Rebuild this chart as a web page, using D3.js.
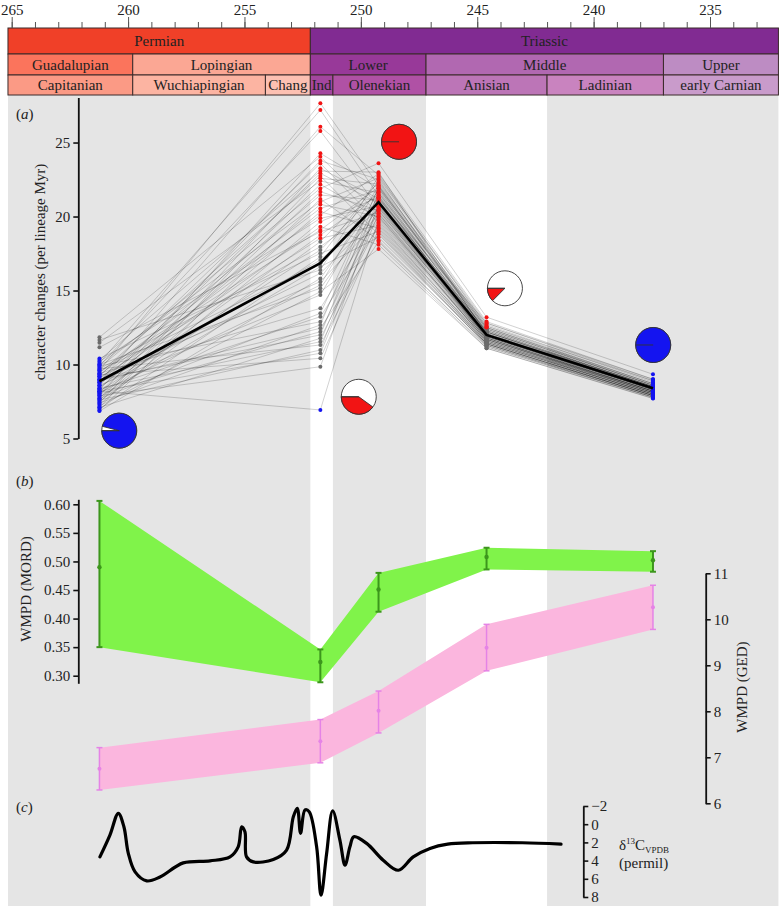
<!DOCTYPE html>
<html>
<head>
<meta charset="utf-8">
<script src="https://cdn.jsdelivr.net/npm/d3@7"></script>
<style>
  body { margin: 0; background: #fff; }
</style>
</head>
<body>
<div id="chart"></div>
<script>
// geological timescale (Ma)
var periodNames = ["Permian", "Triassic"];
var periodBreaks = [265.16, 252.17, 232.06];
var epochNames = ["Guadalupian", "Lopingian", "Lower", "Middle", "Upper"];
var epochBreaks = [265.16, 259.8, 252.17, 247.2, 237, 232.06];
var stageNames = ["Capitanian", "Wuchiapingian", "Chang", "Ind", "Olenekian", "Anisian", "Ladinian", "early Carnian"];
var stageBreaks = [265.16, 259.8, 254.1, 252.17, 251.2, 247.2, 242, 237, 232.06];
var shadedIntervals = [[265.16, 252.17], [251.2, 247.2], [242, 232.06]];
var majorTicks = [265, 260, 255, 250, 245, 240, 235];

// (a) rates of character change, one entry per tree in each time bin
var binAges = [261.23, 251.74, 249.24, 244.6, 237.45];
var rateBin1 = [9.6, 10.1, 8.8, 9.9, 7.9, 11.84, 8.3, 9.2, 7.4, 10.3, 8.6, 9.4, 7.1, 11.47, 8.1, 9.8, 7.7, 9.0, 6.9, 10.0, 8.4,
  9.3, 7.6, 8.9, 10.2, 7.3, 8.7, 9.5, 11.16, 8.0, 9.1, 7.5, 9.7, 8.2, 10.4, 7.0, 8.5, 9.6, 7.8, 11.66, 8.8, 6.85, 9.2,
  8.1, 10.0, 7.2, 8.6, 9.4, 7.7, 8.3, 9.9, 7.4, 8.9, 8.0, 9.0, 7.1, 8.4, 9.7, 7.6, 8.2, 9.3, 7.9, 8.2];
var rateBin2 = [27.65, 27.2, 26.07, 25.78, 24.27, 24.04, 23.77, 23.59, 23.26, 23.07, 22.92, 22.74, 22.58, 22.4, 22.17, 21.9,
  21.68, 21.45, 21.18, 21.0, 20.82, 20.55, 20.32, 20.1, 19.88, 19.65, 19.31, 19.09, 18.97, 18.75, 18.53, 18.3, 17.96,
  17.74, 17.51, 17.28, 17.06, 16.84, 16.61, 16.39, 16.16, 15.82, 15.6, 15.37, 15.15, 14.92, 14.7, 13.8, 13.46, 13.23,
  12.89, 12.67, 12.45, 12.22, 12.0, 11.77, 11.54, 11.32, 10.98, 10.76, 10.42, 9.85, 6.93];
var rateBin3 = [22.1, 21.4, 22.8, 20.6, 21.9, 20.2, 22.5, 19.6, 21.2, 23.0, 20.9, 18.8, 22.2, 21.6, 19.9, 23.6, 20.4, 21.1,
  18.4, 22.6, 20.0, 21.8, 19.2, 22.9, 20.7, 21.3, 18.1, 22.0, 20.3, 21.5, 19.4, 22.3, 20.8, 21.7, 19.0, 22.4, 20.5, 21.0,
  18.6, 22.7, 20.1, 21.2, 19.7, 22.1, 20.6, 17.8, 21.4, 20.0, 21.9, 19.3, 20.9, 22.0, 18.3, 20.4, 21.6, 19.5, 20.7, 18.9,
  21.3, 20.2, 19.1, 20.8, 19.8];
var rateBin4 = [12.2, 11.9, 12.6, 11.7, 12.4, 11.5, 12.1, 11.4, 12.8, 12.0, 11.8, 11.3, 12.5, 12.2, 11.6, 13.2, 11.9, 12.3,
  11.2, 12.7, 11.6, 12.0, 11.4, 12.9, 11.8, 12.1, 11.1, 12.4, 11.7, 12.2, 11.5, 12.6, 11.9, 12.3, 11.3, 12.5, 11.7, 12.0,
  11.4, 12.8, 11.6, 12.2, 11.5, 12.4, 11.8, 11.1, 12.1, 11.7, 12.3, 11.4, 11.9, 12.5, 11.2, 11.8, 12.2, 11.5, 11.9, 11.3,
  12.0, 11.7, 11.4, 11.8, 11.6];
var rateBin5 = [8.5, 8.3, 8.9, 8.2, 8.6, 8.0, 8.4, 7.9, 9.0, 8.3, 8.1, 7.8, 8.7, 8.4, 8.0, 9.34, 8.2, 8.5, 7.8, 8.8, 8.1,
  8.3, 7.9, 9.0, 8.2, 8.4, 7.7, 8.6, 8.1, 8.5, 8.0, 8.7, 8.3, 8.5, 7.9, 8.6, 8.2, 8.4, 7.9, 8.9, 8.1, 8.4, 8.0, 8.6, 8.2,
  7.72, 8.4, 8.1, 8.5, 7.9, 8.3, 8.7, 7.8, 8.2, 8.5, 8.0, 8.3, 7.8, 8.4, 8.1, 7.9, 8.2, 8.0];
var meanRates = [8.87, 16.85, 20.97, 12.0, 8.4];
var highCut = [99, 18.4, 0, 12.45, 99];
var lowCut = [10.45, 7.5, -1, -1, 99];

// pie charts: share of trees with significant rates
var pieAges = [260.38, 250.09, 248.36, 243.81, 237.44];
var pieRates = [5.53, 7.82, 25.05, 15.15, 11.32];
var pieShares = [0.96, 0.40, 1.0, 0.125, 1.0];
var pieKinds = ["low", "high", "high", "high", "low"];

// (b) disparity
var mordMean = [0.49, 0.324, 0.451, 0.508, 0.502];
var mordLow = [0.35, 0.2885, 0.412, 0.486, 0.482];
var mordHigh = [0.606, 0.346, 0.48, 0.524, 0.518];
var gedMean = [6.75, 7.35, 8.01, 9.38, 10.26];
var gedLow = [6.29, 6.88, 7.53, 8.88, 9.78];
var gedHigh = [7.21, 7.82, 8.44, 9.89, 10.74];

// (c) carbon isotope curve
var carbonAges = [261.21, 260.78, 260.42, 260.18, 259.99, 259.70, 259.20, 258.63, 257.63, 256.48, 255.62, 255.27,
  255.12, 254.98, 254.91, 254.62, 253.76, 253.19, 252.90, 252.73, 252.59, 252.40, 252.22, 251.90, 251.71, 251.47,
  251.21, 250.90, 250.68, 250.47, 250.30, 249.75, 249.04, 248.39, 247.75, 247.03, 246.27, 245.20, 243.06, 241.40];
var carbonValues = [3.59, 1.2, -1.2, 0.28, 3.2, 5.24, 6.23, 5.8, 4.25, 4.03, 3.59, 2.49, 0.28, 0.83, 3.59, 4.14, 3.88,
  2.85, -0.82, -1.74, 1.0, -1.56, -1.37, 2.49, 7.81, 3.22, -1.48, 1.75, 4.5, 2.49, 1.38, 2.11, 3.95, 5.06, 3.59, 2.66,
  2.19, 2.04, 2.04, 2.19];

var periodColours = ["#f04028", "#812b92"];
var epochColours = ["#fb745c", "#fba794", "#983999", "#b168b1", "#bd8cc3"];
var stageColours = ["#fb9a85", "#fcb4a2", "#fcc0b2", "#a4469f", "#b051a5", "#bc75b7", "#c983bf", "#c99bcb"];

var serif = "'Liberation Serif', 'Times New Roman', serif";
var svg = d3.select("#chart").append("svg").attr("width", 780).attr("height", 906)
  .style("font-family", serif);
svg.append("rect").attr("width", 780).attr("height", 906).attr("fill", "#fff");

var x = d3.scaleLinear().domain([265, 235]).range([11.7, 710]);

// grey background bands
svg.selectAll(".band").data(shadedIntervals).enter().append("rect")
  .attr("x", function (d) { return x(d[0]); })
  .attr("width", function (d) { return x(d[1]) - x(d[0]); })
  .attr("y", 95).attr("height", 811).attr("fill", "#e5e5e5");

// timescale bar
function drawRow(names, breaks, colours, y0, h, fs) {
  var g = svg.append("g");
  names.forEach(function (n, i) {
    var x0 = x(breaks[i]), x1 = x(breaks[i + 1]);
    g.append("rect").attr("x", x0).attr("y", y0).attr("width", x1 - x0).attr("height", h)
      .attr("fill", colours[i]).attr("stroke", "#3a2a2a").attr("stroke-width", 1);
    g.append("text").attr("x", (x0 + x1) / 2).attr("y", y0 + h / 2 + 5)
      .attr("text-anchor", "middle").attr("font-size", fs).attr("fill", "#222").text(n);
  });
}
drawRow(periodNames, periodBreaks, periodColours, 28, 26, 15);
drawRow(epochNames, epochBreaks, epochColours, 54, 21, 15);
drawRow(stageNames, stageBreaks, stageColours, 75, 20, 15);

// top time axis
var minor = svg.append("g").attr("transform", "translate(0,28)")
  .call(d3.axisTop(x).tickValues(d3.range(265, 232, -1)).tickSize(6).tickFormat(""));
minor.select(".domain").remove();
var major = svg.append("g").attr("transform", "translate(0,28)")
  .call(d3.axisTop(x).tickValues(majorTicks).tickSize(11).tickPadding(2).tickFormat(d3.format("d")));
major.select(".domain").remove();
[minor, major].forEach(function (g) {
  g.attr("font-size", 15);
  g.selectAll("line").attr("stroke", "#555");
  g.selectAll("text").attr("fill", "#222");
});

function panelLabel(letter, px, py) {
  var t = svg.append("text").attr("x", px).attr("y", py).attr("font-size", 15).attr("fill", "#222");
  t.append("tspan").text("(");
  t.append("tspan").attr("font-style", "italic").text(letter);
  t.append("tspan").text(")");
}
function yLabel(txt, px, py) {
  svg.append("text").attr("transform", "translate(" + px + "," + py + ") rotate(-90)")
    .attr("text-anchor", "middle").attr("font-size", 15).attr("fill", "#222").text(txt);
}
function styleAxis(g) {
  g.attr("font-size", 15);
  g.select(".domain").attr("stroke", "#111").attr("stroke-width", 1.8);
  g.selectAll(".tick line").attr("stroke", "#111").attr("stroke-width", 1.6);
  g.selectAll(".tick text").attr("fill", "#222");
}

// ---- panel (a)
var yA = d3.scaleLinear().domain([5, 28.05]).range([438.5, 97.4]);
styleAxis(svg.append("g").attr("transform", "translate(78.3,0)")
  .call(d3.axisLeft(yA).tickValues([5, 10, 15, 20, 25]).tickSize(5).tickSizeOuter(0)));
yLabel("character changes (per lineage Myr)", 45, 272);
panelLabel("a", 16, 119);

var bins = [rateBin1, rateBin2, rateBin3, rateBin4, rateBin5];
var trees = rateBin1.map(function (v, i) {
  return bins.map(function (b) { return b[i]; });
});
var rateLine = d3.line()
  .x(function (d, j) { return x(binAges[j]); })
  .y(function (d) { return yA(d); });

svg.append("g").selectAll("path").data(trees).enter().append("path")
  .attr("d", rateLine).attr("fill", "none")
  .attr("stroke", "#000").attr("stroke-opacity", 0.3).attr("stroke-width", 0.6);

function dotColour(v, j) {
  if (v >= highCut[j]) return "#f21414";
  if (v <= lowCut[j]) return "#1414f0";
  return "#6b6b6b";
}
bins.forEach(function (b, j) {
  svg.append("g").selectAll("circle").data(b).enter().append("circle")
    .attr("cx", x(binAges[j])).attr("cy", function (d) { return yA(d); })
    .attr("r", 2).attr("fill", function (d) { return dotColour(d, j); });
});

svg.append("path").datum(meanRates).attr("d", rateLine)
  .attr("fill", "none").attr("stroke", "#000").attr("stroke-width", 2.6);

// pies
var pieR = 17.5;
var arc = d3.arc().innerRadius(0).outerRadius(pieR);
pieAges.forEach(function (a, i) {
  var g = svg.append("g").attr("transform", "translate(" + x(a) + "," + yA(pieRates[i]) + ")");
  var fill = pieKinds[i] === "high" ? "#f21414" : "#1414f0";
  g.append("circle").attr("r", pieR).attr("fill", "#fff").attr("stroke", "#333").attr("stroke-width", 0.9);
  var slices = d3.pie().sort(null).startAngle(-Math.PI / 2).endAngle(-Math.PI / 2 - 2 * Math.PI)([pieShares[i], 1 - pieShares[i]]);
  g.append("path").attr("d", arc(slices[0])).attr("fill", fill).attr("stroke", "#333").attr("stroke-width", 0.9);
  g.append("line").attr("x1", 0).attr("y1", 0).attr("x2", -pieR).attr("y2", 0)
    .attr("stroke", "#333").attr("stroke-width", 0.9);
});

// ---- panel (b)
panelLabel("b", 16, 486);
var yB = d3.scaleLinear().domain([0.2867, 0.6088]).range([683.3, 499.3]);
var yG = d3.scaleLinear().domain([6, 11]).range([803.3, 573.3]);

function band(lo, hi, scale, fill) {
  var area = d3.area()
    .x(function (d, i) { return x(binAges[i]); })
    .y0(function (d, i) { return scale(lo[i]); })
    .y1(function (d, i) { return scale(hi[i]); });
  svg.append("path").datum(lo).attr("d", area).attr("fill", fill);
}
function errorBars(mean, lo, hi, scale, col, w, r) {
  var g = svg.append("g").attr("stroke", col).attr("stroke-width", w);
  mean.forEach(function (m, i) {
    var cx = x(binAges[i]);
    g.append("line").attr("x1", cx).attr("x2", cx).attr("y1", scale(lo[i])).attr("y2", scale(hi[i]));
    g.append("line").attr("x1", cx - 3).attr("x2", cx + 3).attr("y1", scale(lo[i])).attr("y2", scale(lo[i]));
    g.append("line").attr("x1", cx - 3).attr("x2", cx + 3).attr("y1", scale(hi[i])).attr("y2", scale(hi[i]));
    g.append("circle").attr("cx", cx).attr("cy", scale(m)).attr("r", r).attr("fill", col).attr("stroke", "none");
  });
}
band(gedLow, gedHigh, yG, "#fbb6de");
errorBars(gedMean, gedLow, gedHigh, yG, "#e583e6", 1.5, 2);
band(mordLow, mordHigh, yB, "#80f34a");
errorBars(mordMean, mordLow, mordHigh, yB, "#3c961c", 2, 2.2);

styleAxis(svg.append("g").attr("transform", "translate(78.3,0)")
  .call(d3.axisLeft(yB).tickValues([0.30, 0.35, 0.40, 0.45, 0.50, 0.55, 0.60])
    .tickFormat(d3.format(".2f")).tickSize(5).tickSizeOuter(0)));
yLabel("WMPD (MORD)", 31, 589);

styleAxis(svg.append("g").attr("transform", "translate(705.7,0)")
  .call(d3.axisRight(yG).tickValues([6, 7, 8, 9, 10, 11]).tickFormat(d3.format("d"))
    .tickSize(5).tickSizeOuter(0)));
yLabel("WMPD (GED)", 747, 687);

// ---- panel (c)
panelLabel("c", 16, 812);
var yC = d3.scaleLinear().domain([-2, 8]).range([806, 897]);
var carbonLine = d3.line()
  .x(function (d, i) { return x(carbonAges[i]); })
  .y(function (d) { return yC(d); })
  .curve(d3.curveCatmullRom.alpha(0.5));
svg.append("path").datum(carbonValues).attr("d", carbonLine)
  .attr("fill", "none").attr("stroke", "#000").attr("stroke-width", 3.2)
  .attr("stroke-linejoin", "round").attr("stroke-linecap", "round");

styleAxis(svg.append("g").attr("transform", "translate(583.3,0)")
  .call(d3.axisRight(yC).tickValues([-2, 0, 2, 4, 6, 8]).tickSize(5).tickSizeOuter(0)));

var cl = svg.append("text").attr("x", 619).attr("y", 850).attr("font-size", 15).attr("fill", "#222");
cl.append("tspan").text("δ");
cl.append("tspan").attr("font-size", 9).attr("dy", -6).text("13");
cl.append("tspan").attr("dy", 6).text("C");
cl.append("tspan").attr("font-size", 9).attr("dy", 3).text("VPDB");
svg.append("text").attr("x", 619).attr("y", 868).attr("font-size", 15).attr("fill", "#222").text("(permil)");

// axis groups carry their own sans-serif attribute; force the serif face everywhere
svg.selectAll("g").style("font-family", serif);
svg.selectAll("text").style("font-family", serif);
</script>
</body>
</html>
